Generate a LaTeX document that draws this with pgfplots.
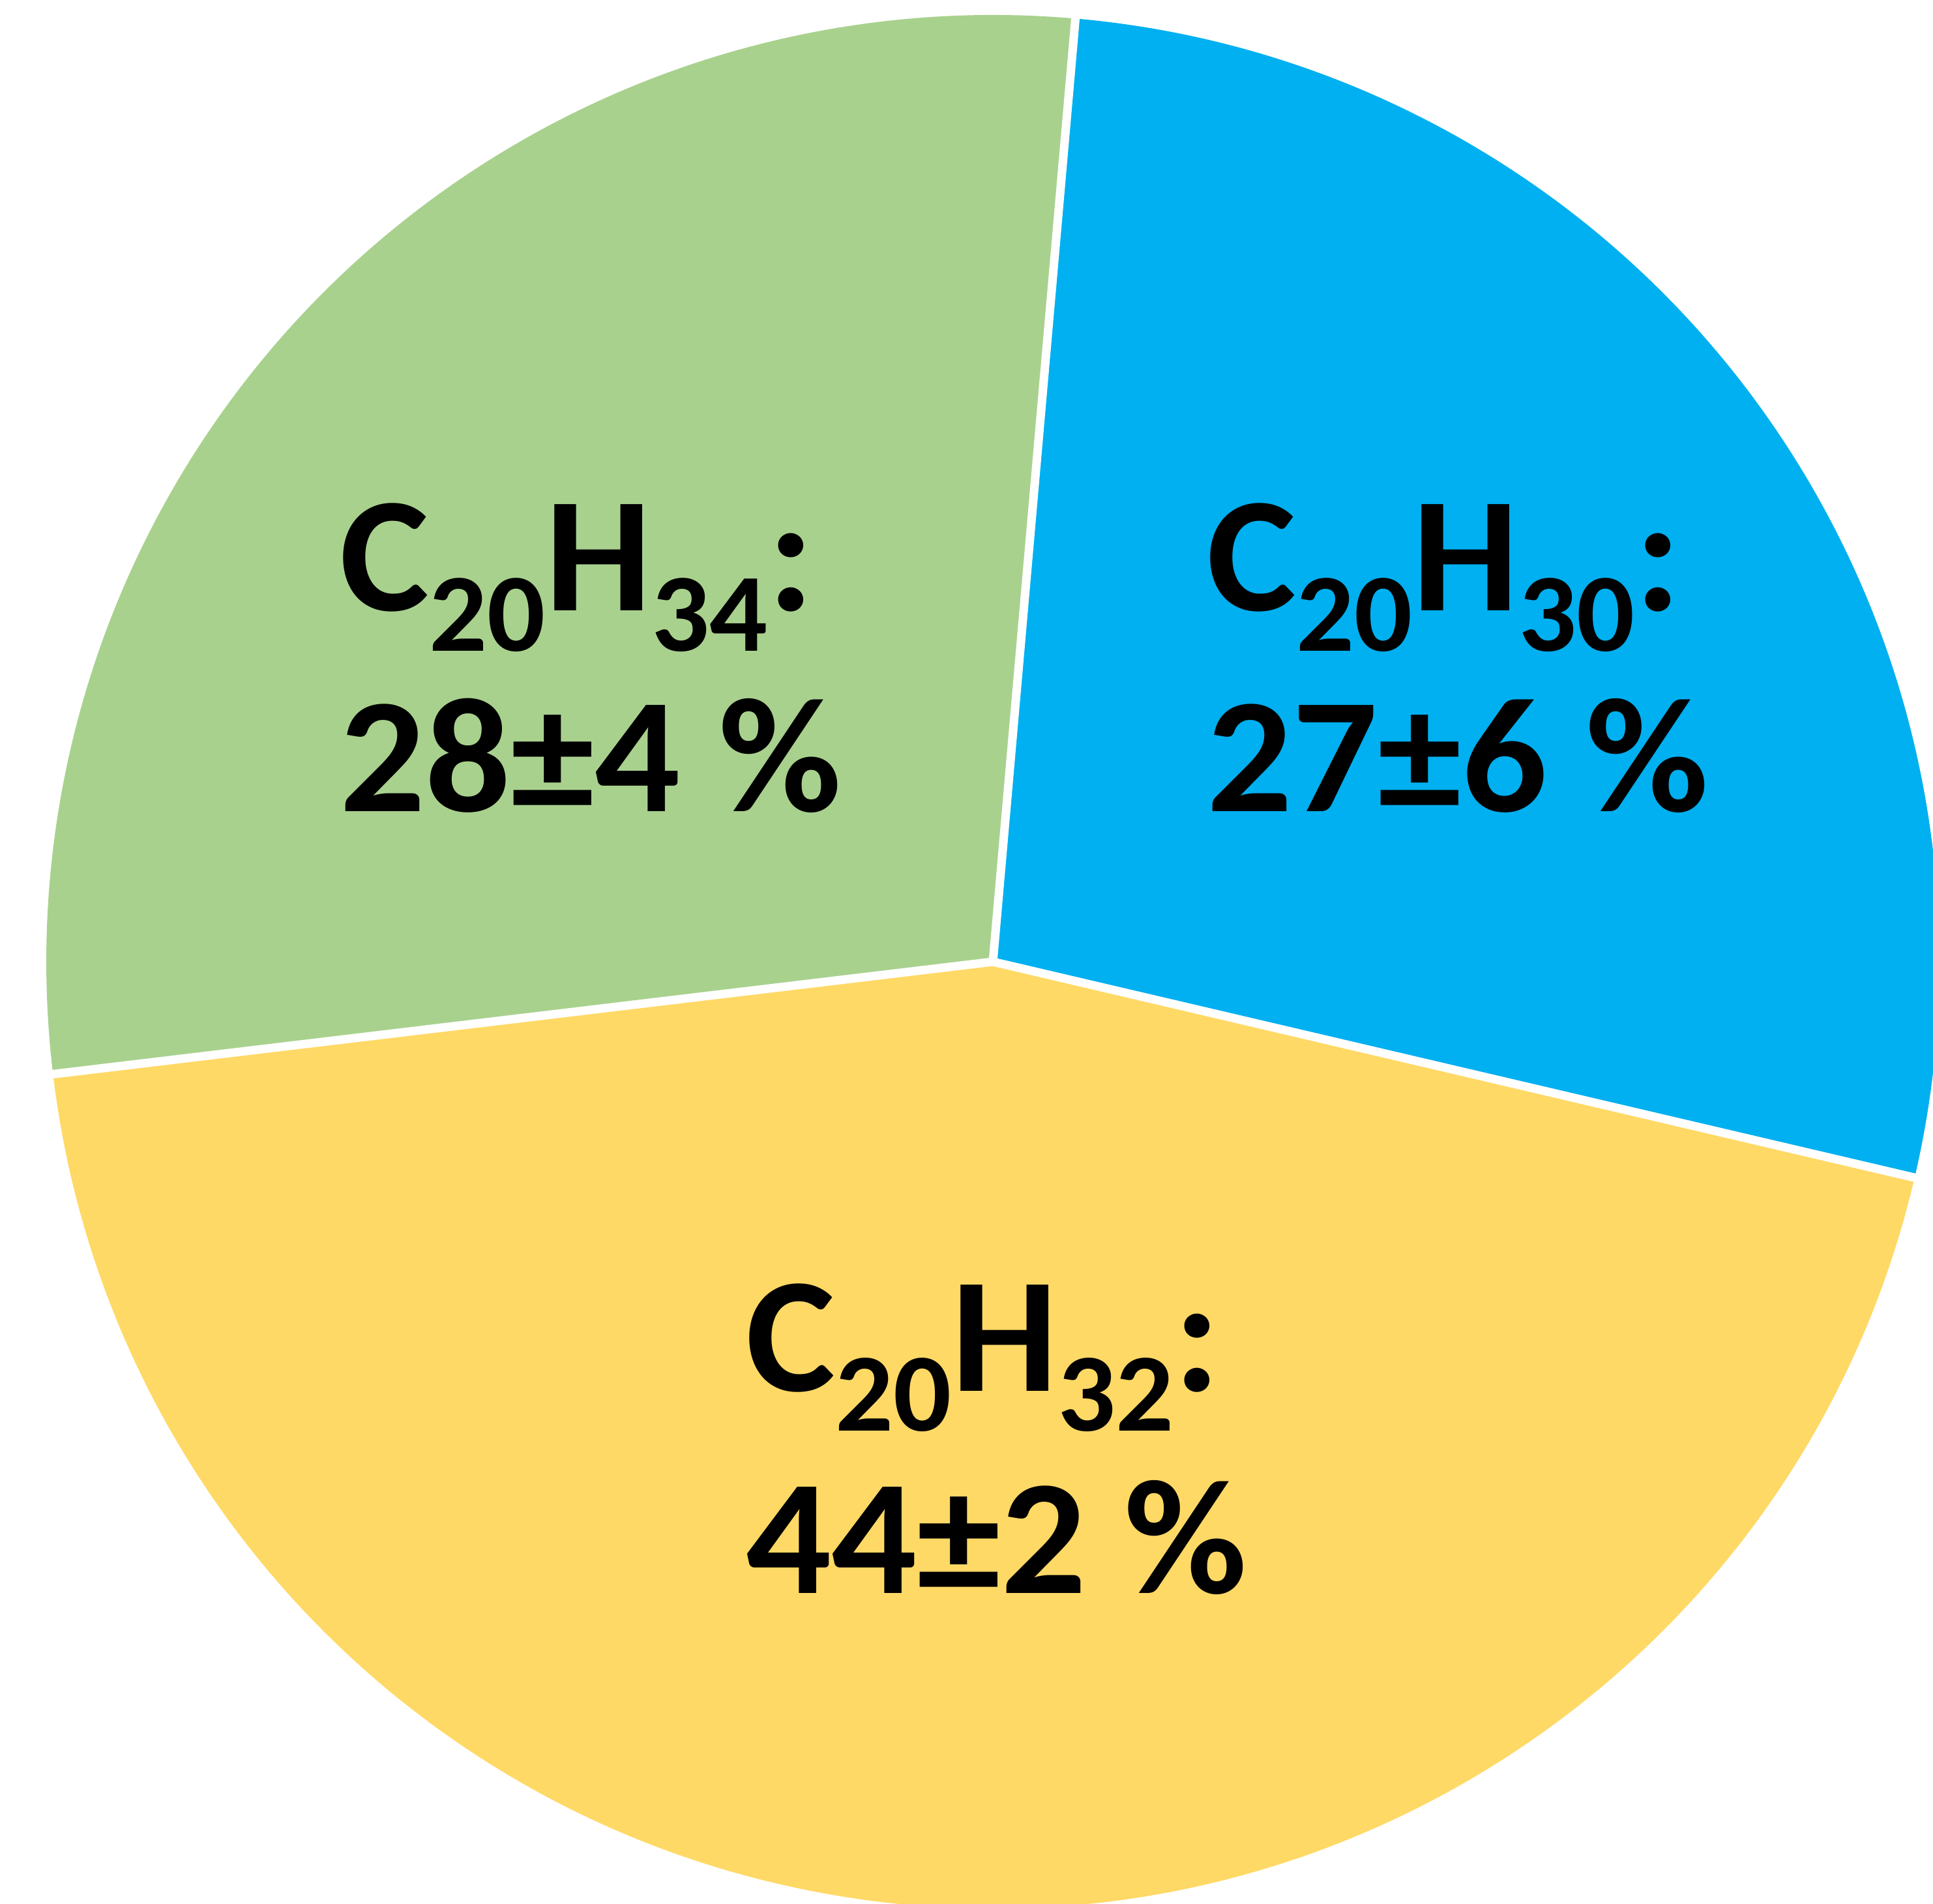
\documentclass[border=0pt]{standalone}
\usepackage{fontspec}
\usepackage{pgfplots}
\usepackage{pgfplotstable}
\pgfplotsset{compat=1.18}
\newfontfamily\labfont{Carlito}[FakeStretch=1.03]
\definecolor{cBlue}{HTML}{00B0F0}
\definecolor{cYellow}{HTML}{FFD966}
\definecolor{cGreen}{HTML}{A9D18E}
\newcommand\sub[1]{\raisebox{-8.5pt}{\fontsize{23.5}{23.5}\selectfont #1}}
\tikzset{lbl/.style={anchor=base west, inner sep=0pt,
    font={\labfont\bfseries\fontsize{34.6}{40}\selectfont}}}

% share of each component, in percent (clockwise from the top)
\pgfplotstableread{
comp   pct
C20H30 27
C20H32 44
C20H34 28
}\pietable

\begin{document}
\begin{tikzpicture}
\pgfplotstablegetelem{0}{pct}\of\pietable \let\pa\pgfplotsretval
\pgfplotstablegetelem{1}{pct}\of\pietable \let\pb\pgfplotsretval
\pgfplotstablegetelem{2}{pct}\of\pietable \let\pc\pgfplotsretval
\pgfmathsetmacro\tot{\pa+\pb+\pc}
\pgfmathsetmacro\sA{85}
\pgfmathsetmacro\sB{\sA-360*\pa/\tot}
\pgfmathsetmacro\sC{\sB-360*\pb/\tot}
\pgfmathsetmacro\sD{\sC-360*\pc/\tot}
\def\R{200pt}
\begin{axis}[
    hide axis,
    x=200pt, y=200pt,
    xmin=-1.0489, xmax=0.9931,
    ymin=-0.9945, ymax=1.0158,
    clip=true,
]
\fill[cBlue]   (axis cs:0,0) -- +(\sA:\R) arc[start angle=\sA, end angle=\sB, radius=\R] -- cycle;
\fill[cYellow] (axis cs:0,0) -- +(\sB:\R) arc[start angle=\sB, end angle=\sC, radius=\R] -- cycle;
\fill[cGreen]  (axis cs:0,0) -- +(\sC:\R) arc[start angle=\sC, end angle=\sD, radius=\R] -- cycle;
\draw[white, line width=1.8pt] (axis cs:0,0) -- +(\sA:1.05*\R);
\draw[white, line width=1.8pt] (axis cs:0,0) -- +(\sB:1.05*\R);
\draw[white, line width=1.8pt] (axis cs:0,0) -- +(\sC:1.05*\R);

\node[lbl] at (axis cs:-0.691,0.3705) {C\sub{20}H\sub{34}:};
\node[lbl] at (axis cs:-0.691,0.1584) {28±4 \%};
\node[lbl] at (axis cs:0.225,0.3705) {C\sub{20}H\sub{30}:};
\node[lbl] at (axis cs:0.225,0.1584) {27±6 \%};
\node[lbl] at (axis cs:-0.262,-0.4532) {C\sub{20}H\sub{32}:};
\node[lbl] at (axis cs:-0.262,-0.6667) {44±2 \%};
\end{axis}
\pgfresetboundingbox
\path (current axis.south west) rectangle (current axis.north east);
\end{tikzpicture}
\end{document}
